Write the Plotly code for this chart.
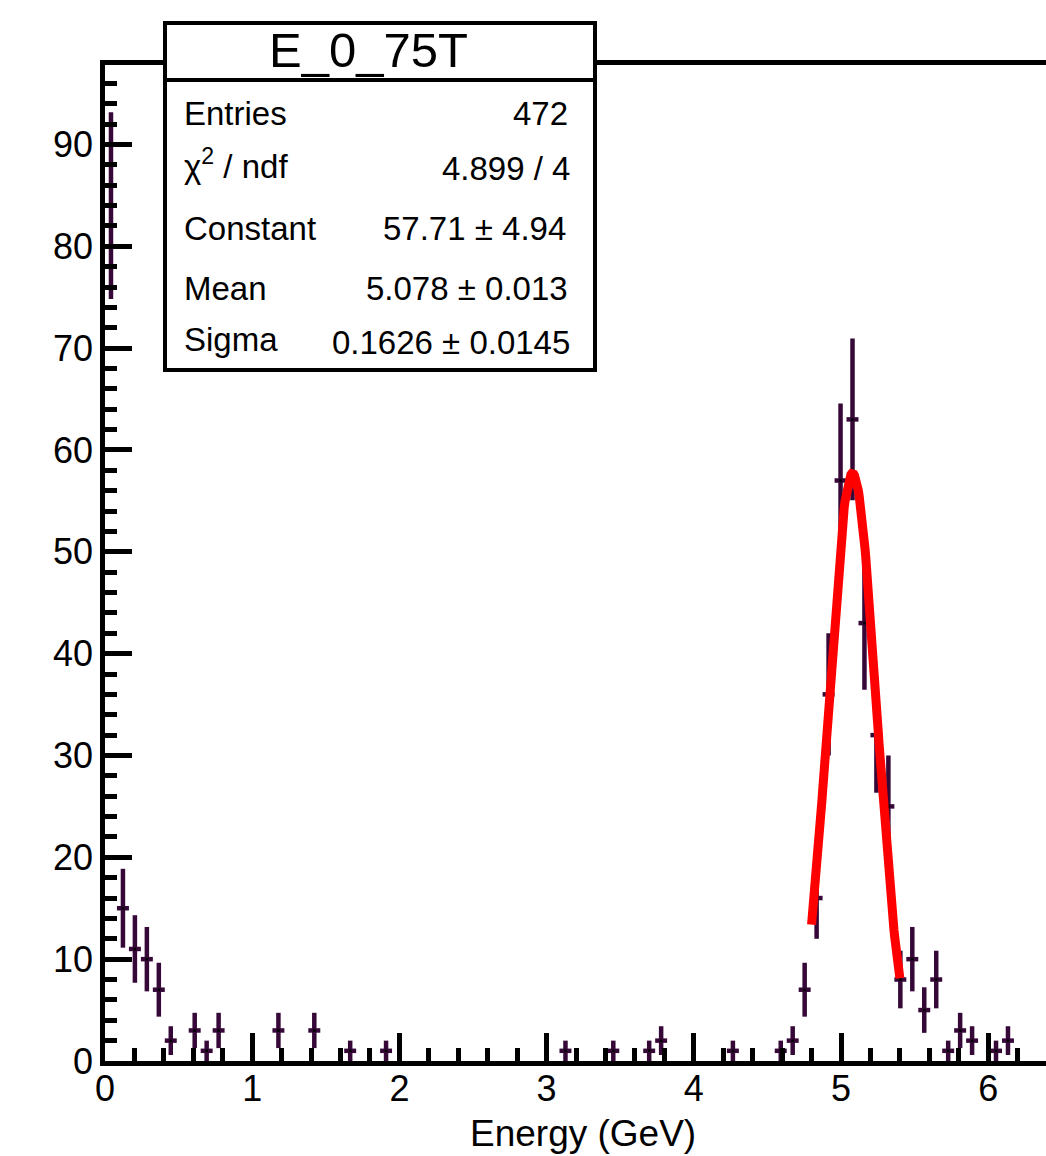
import numpy as np
import plotly.graph_objects as go

# ---------------- data ----------------
hist_title = "E_0_75T"
x_label = "Energy (GeV)"
x_lo, x_hi, n_bins = 0.0, 6.5, 80
# non-empty bins (index) and their contents
bin_index = [0, 1, 2, 3, 4, 5, 7, 8, 9, 14, 17, 20, 23, 38, 42, 45, 46, 52, 56,
             57, 58, 59, 60, 61, 62, 63, 64, 65, 66, 67, 68, 69, 70, 71, 72, 74, 75]
counts = [84, 15, 11, 10, 7, 2, 3, 1, 3, 3, 3, 1, 1, 1, 1, 1, 2, 1, 1,
          2, 7, 16, 36, 57, 63, 43, 32, 25, 8, 10, 5, 8, 1, 3, 2, 1, 2]
# gaussian fit result
fit_constant, fit_mean, fit_sigma = 57.71, 5.078, 0.1626
fit_range = [4.80, 5.40]
stats_labels = ["Entries", "χ<sup>2</sup> / ndf", "Constant", "Mean", "Sigma"]
stats_values = ["472", "4.899 / 4", "57.71 ± 4.94", "5.078 ± 0.013", "0.1626 ± 0.0145"]

# ---------------- derived ----------------
bin_w = (x_hi - x_lo) / n_bins
centers = [x_lo + (i + 0.5) * bin_w for i in bin_index]
errs = np.sqrt(counts)
xf = np.linspace(fit_range[0], fit_range[1], 120)
yf = fit_constant * np.exp(-0.5 * ((xf - fit_mean) / fit_sigma) ** 2)

W, H = 1046, 1156
PL, PR, PT, PB = 105, 1046, 65, 1061
x_scale = 147.2  # px per GeV
x_max = (PR - PL) / x_scale
y_max = 97.8

def px(x):
    return (x - PL) / (PR - PL)

def py(y):
    return (PB - y) / (PB - PT)

FONT = "Liberation Sans, Arial, Helvetica, sans-serif"
DATA_COL = "#360838"

fig = go.Figure()
fig.add_trace(go.Scatter(
    x=centers, y=counts, mode="markers",
    marker=dict(color="black", size=3),
    error_y=dict(type="data", array=errs, color=DATA_COL, thickness=4.5, width=0),
    error_x=dict(type="constant", value=bin_w / 2, color=DATA_COL, thickness=4.5, width=0),
    showlegend=False, hoverinfo="x+y",
))
fig.add_trace(go.Scatter(
    x=xf, y=yf, mode="lines", line=dict(color="#ff0000", width=9),
    showlegend=False,
))

axis_common = dict(
    showline=True, linecolor="black", linewidth=4.5,
    ticks="inside", tickcolor="black", tickwidth=4.5,
    showgrid=False, zeroline=False,
    tickfont=dict(family=FONT, size=36, color="black"),
)
fig.update_xaxes(
    range=[0, x_max], tick0=0, dtick=1, ticklen=28, mirror=True,
    minor=dict(ticks="inside", dtick=0.2, tick0=0, ticklen=13, tickwidth=4.5, tickcolor="black"),
    ticklabelstandoff=-8,
    **axis_common,
)
fig.update_yaxes(
    range=[0, y_max], tick0=0, dtick=10, ticklen=27,
    minor=dict(ticks="inside", dtick=2, tick0=0, ticklen=12, tickwidth=4.5, tickcolor="black"),
    ticklabelstandoff=0,
    **axis_common,
)

shapes = [
    dict(type="rect", xref="paper", yref="paper",
         x0=px(165), x1=px(595), y0=py(370), y1=py(23),
         line=dict(color="black", width=4), fillcolor="white", layer="above"),
    dict(type="line", xref="paper", yref="paper",
         x0=px(165), x1=px(595), y0=py(80), y1=py(80),
         line=dict(color="black", width=4), layer="above"),
]

annotations = [
    dict(text=hist_title, xref="paper", yref="paper", x=px(368), y=py(50),
         xanchor="center", yanchor="middle", showarrow=False,
         font=dict(family=FONT, size=49, color="black")),
    dict(text=x_label, xref="x", yref="paper", x=(x_lo + x_hi) / 2, y=py(1133),
         xanchor="center", yanchor="middle", showarrow=False,
         font=dict(family=FONT, size=37, color="black")),
]
row_y_left = [114, 164, 228, 288, 339]
row_y_right = [114, 169, 228, 288, 342]
row_x_right = [570, 572, 568, 570, 572]
for lab, val, yl, yr, xr in zip(stats_labels, stats_values, row_y_left, row_y_right, row_x_right):
    annotations.append(dict(text=lab, xref="paper", yref="paper", x=px(182), y=py(yl),
                            xanchor="left", yanchor="middle", showarrow=False,
                            font=dict(family=FONT, size=33, color="black")))
    annotations.append(dict(text=val, xref="paper", yref="paper", x=px(xr), y=py(yr),
                            xanchor="right", yanchor="middle", showarrow=False,
                            font=dict(family=FONT, size=33, color="black")))

fig.update_layout(
    width=W, height=H,
    margin=dict(l=PL, r=W - PR, t=PT, b=H - PB),
    paper_bgcolor="white", plot_bgcolor="white",
    shapes=shapes, annotations=annotations,
    font=dict(family=FONT, color="black"),
)

fig.write_html("out.html")
